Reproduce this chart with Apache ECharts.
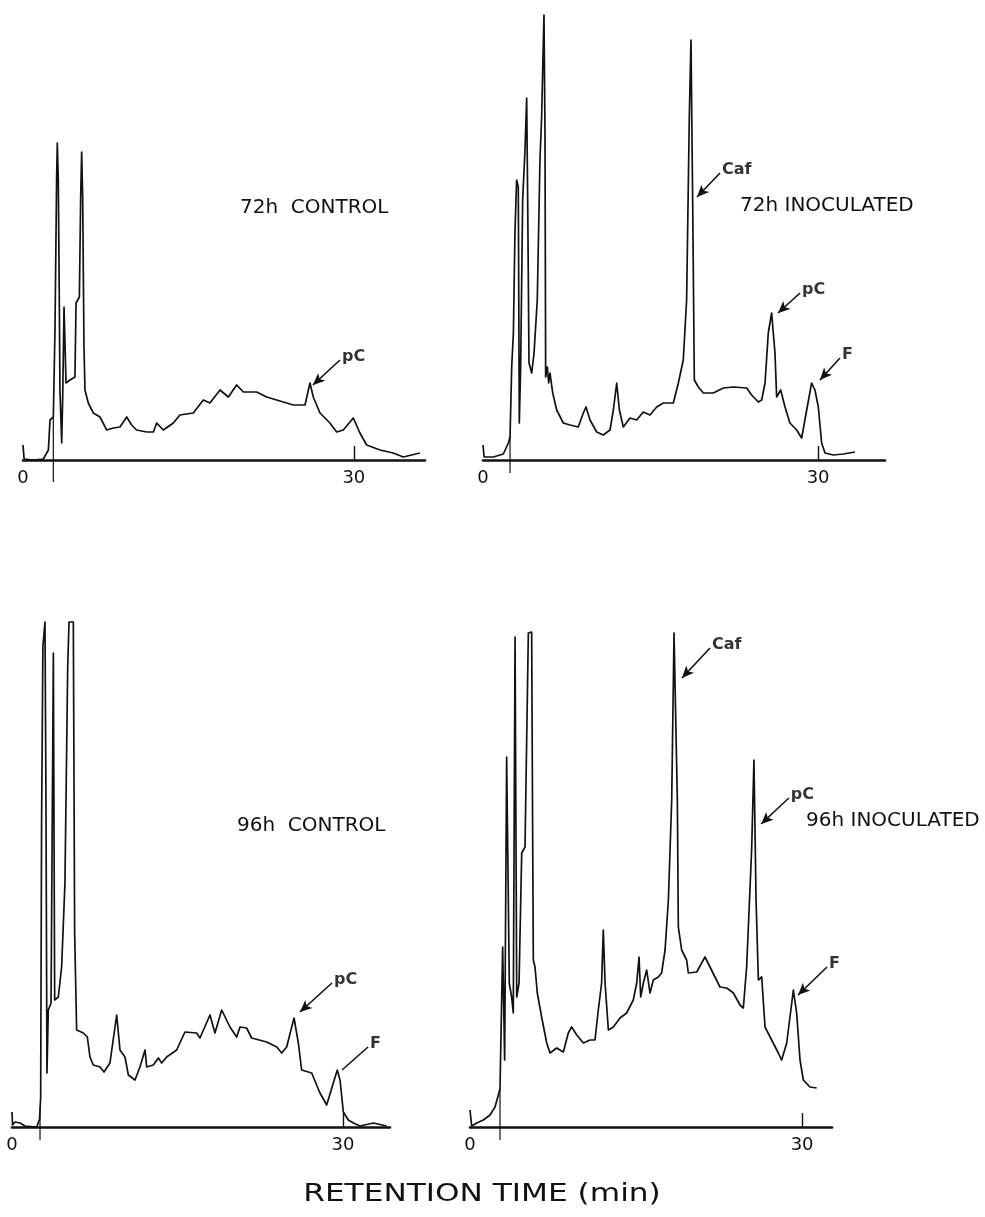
<!DOCTYPE html>
<html>
<head>
<meta charset="utf-8">
<title>HPLC chromatograms - 72h and 96h control vs inoculated</title>
<script src="https://cdn.jsdelivr.net/npm/echarts@6/dist/echarts.min.js"></script>
<style>
  html, body { margin: 0; padding: 0; background: #fff; }
  #chart { width: 985px; height: 1217px; }
</style>
</head>
<body>
<div id="chart"></div>
<script>
// Retention time (min) and detector response (relative units) for each run.
const time72Control = [0, 0.1, 0.94, 1.84, 2.30, 2.45, 2.75, 2.90, 3.05, 3.11, 3.20, 3.29, 3.35, 3.51, 3.60, 3.72, 3.84, 3.90, 4.26, 4.71, 4.81, 5.11, 5.23, 5.32, 5.41, 5.53, 5.62, 5.92, 6.38, 6.98, 7.59, 8.19, 8.79, 9.40, 9.85, 10.30, 11.21, 11.82, 12.12, 12.72, 13.63, 14.23, 15.44, 16.35, 16.95, 17.86, 18.62, 19.37, 19.98, 21.18, 22.09, 23.60, 24.51, 25.57, 26.02, 26.32, 26.93, 27.83, 28.44, 29.04, 29.95, 30.55, 31.16, 32.37, 33.57, 34.48, 35.99];
const signal72Control = [15, 1, 0, 1, 10, 40, 43, 130, 283, 317, 280, 163, 70, 17, 63, 153, 153, 77, 80, 83, 157, 163, 263, 308, 263, 113, 70, 57, 47, 43, 30, 32, 33, 43, 35, 30, 28, 28, 37, 30, 37, 45, 47, 60, 57, 70, 63, 75, 68, 68, 63, 58, 55, 55, 77, 63, 47, 37, 28, 30, 42, 27, 15, 10, 7, 3, 7];

const time72Inoc = [0, 0.1, 0.93, 1.82, 2.27, 2.42, 2.57, 2.72, 2.86, 3.01, 3.16, 3.25, 3.37, 3.55, 3.76, 3.91, 4.00, 4.12, 4.36, 4.57, 4.86, 5.10, 5.25, 5.40, 5.46, 5.55, 5.61, 5.76, 5.88, 6.00, 6.24, 6.60, 7.19, 7.79, 8.53, 8.98, 9.22, 9.58, 10.18, 10.77, 11.37, 11.67, 11.97, 12.21, 12.56, 13.16, 13.76, 14.35, 14.95, 15.55, 16.14, 17.04, 17.49, 17.93, 18.23, 18.47, 18.62, 18.77, 18.92, 19.28, 19.73, 20.62, 21.52, 22.41, 23.61, 24.05, 24.65, 24.95, 25.25, 25.54, 25.84, 26.14, 26.29, 26.65, 27.04, 27.48, 28.08, 28.53, 28.98, 29.42, 29.72, 30.02, 30.32, 30.62, 31.36, 32.26, 33.30];
const signal72Inoc = [15, 3, 3, 6, 17, 23, 93, 127, 227, 280, 273, 37, 93, 260, 310, 362, 260, 97, 87, 107, 160, 300, 343, 417, 445, 327, 83, 93, 77, 87, 67, 50, 37, 35, 33, 47, 53, 40, 28, 25, 30, 50, 77, 50, 33, 42, 40, 48, 45, 53, 57, 57, 77, 100, 160, 343, 420, 260, 80, 73, 67, 67, 72, 73, 72, 65, 58, 60, 77, 127, 147, 107, 63, 70, 53, 37, 30, 22, 50, 77, 70, 53, 17, 7, 5, 6, 8];

const time96Control = [0, 0.05, 0.27, 0.73, 1.18, 2.24, 2.50, 2.60, 2.68, 2.80, 2.99, 3.08, 3.17, 3.29, 3.54, 3.75, 3.87, 4.20, 4.50, 4.80, 5.05, 5.17, 5.56, 5.68, 5.86, 6.47, 6.83, 7.07, 7.37, 7.98, 8.34, 8.88, 9.49, 9.79, 10.24, 10.55, 11.15, 11.60, 12.06, 12.21, 12.81, 13.27, 13.57, 14.02, 14.93, 15.68, 16.74, 17.04, 17.95, 18.40, 19.01, 19.76, 20.37, 20.67, 21.27, 21.73, 23.09, 24.00, 24.45, 24.90, 25.57, 25.96, 26.26, 27.17, 27.92, 28.53, 29.13, 29.49, 29.74, 30.04, 30.49, 30.95, 31.55, 32.76, 33.97];
const signal96Control = [15, 2, 5, 4, 1, 0, 8, 30, 300, 480, 505, 327, 54, 117, 124, 474, 127, 130, 160, 244, 460, 505, 505, 194, 97, 94, 90, 70, 62, 60, 55, 64, 112, 77, 70, 52, 47, 60, 77, 60, 62, 69, 64, 70, 77, 95, 94, 89, 112, 94, 117, 100, 90, 100, 99, 89, 85, 80, 74, 80, 109, 84, 57, 54, 34, 22, 44, 57, 47, 15, 7, 4, 1, 4, 1];

const time96Inoc = [0, 0.15, 0.60, 1.20, 1.81, 2.26, 2.71, 2.95, 3.13, 3.31, 3.55, 3.76, 3.91, 4.07, 4.22, 4.43, 4.67, 4.97, 5.27, 5.57, 5.66, 5.72, 5.87, 6.08, 6.47, 6.93, 7.23, 7.83, 8.43, 8.88, 9.18, 9.64, 10.24, 10.84, 11.29, 11.59, 11.89, 12.04, 12.20, 12.50, 12.95, 13.55, 14.15, 14.75, 15.06, 15.27, 15.42, 15.66, 15.96, 16.26, 16.56, 17.01, 17.31, 17.62, 17.92, 18.22, 18.43, 18.61, 18.73, 18.82, 19.12, 19.57, 19.72, 20.48, 21.23, 21.68, 22.13, 22.58, 23.19, 23.79, 24.39, 24.69, 24.99, 25.44, 25.65, 25.84, 26.05, 26.35, 26.65, 27.25, 27.85, 28.15, 28.61, 29.21, 29.51, 29.81, 30.11, 30.71, 31.32];
const signal96Inoc = [17, 1, 4, 7, 12, 20, 38, 180, 67, 370, 144, 130, 114, 490, 130, 144, 274, 280, 494, 495, 294, 167, 160, 134, 110, 84, 74, 79, 75, 94, 100, 92, 84, 87, 87, 117, 144, 197, 144, 97, 100, 109, 114, 127, 144, 170, 130, 144, 157, 134, 147, 150, 154, 177, 227, 327, 494, 494, 327, 200, 177, 167, 154, 155, 170, 160, 150, 140, 139, 134, 122, 119, 160, 277, 367, 227, 147, 150, 100, 87, 74, 67, 84, 137, 114, 67, 47, 40, 39];

// Panel titles
const panelTitles = ['72h  CONTROL', '72h INOCULATED', '96h  CONTROL', '96h INOCULATED'];
// Time axis: end of each recorder trace (min) and labelled ticks
const axisEnds = [36.45, 35.99, 34.27, 32.70];
const tickLabels = [0, 30];
const tickMarks = [30];
// Injection marker time (min) for each run, and its extent in response units
const injectionTimes = [2.75, 2.42, 2.54, 2.71];
const injectionSpan = [[-22, 43], [-13, 23], [-13, 20], [-13, 38]];

// Peak annotations: panel, label, arrow tip [min, response], label anchor [min, response], arrowhead
const peakNotes = [
  [0, 'pC', [26.29, 75], [28.74, 100], true],
  [1, 'Caf', [19.16, 263], [21.22, 287], true],
  [1, 'pC', [26.41, 147], [28.38, 167], true],
  [1, 'F', [30.17, 80], [31.96, 102], true],
  [2, 'pC', [26.11, 115], [29.01, 144], true],
  [2, 'F', [29.92, 57], [32.28, 80], false],
  [3, 'Caf', [19.15, 449], [21.68, 479], true],
  [3, 'pC', [26.30, 303], [28.80, 329], true],
  [3, 'F', [29.63, 132], [32.25, 160], true]
];

const runs = [
  [time72Control, signal72Control],
  [time72Inoc, signal72Inoc],
  [time96Control, signal96Control],
  [time96Inoc, signal96Inoc]
];

const INK = '#111111';
const FONT = '"DejaVu Sans", "Liberation Sans", sans-serif';

// Layout of the four recorder panels (pixels); grid bottom sits on the baseline
const layout = [
  { left: 23, width: 402, top: 0, height: 460, yMax: 460 },
  { left: 483, width: 402, top: 0, height: 460, yMax: 460 },
  { left: 12, width: 378, top: 600, height: 527, yMax: 527 },
  { left: 470, width: 362, top: 600, height: 527, yMax: 527 }
];

const grids = layout.map(l => ({ left: l.left, top: l.top, width: l.width, height: l.height, containLabel: false }));

const xAxes = layout.map((l, i) => ({
  type: 'value',
  gridIndex: i,
  min: 0,
  max: axisEnds[i],
  axisLine: { show: true, onZero: false, lineStyle: { color: INK, width: 2.6 } },
  axisTick: { show: true, inside: true, length: 14, customValues: tickMarks, lineStyle: { color: INK, width: 1.4 } },
  axisLabel: { show: true, customValues: tickLabels, margin: 9, fontSize: 18, color: INK, fontFamily: FONT },
  splitLine: { show: false }
}));

const yAxes = layout.map((l, i) => ({
  type: 'value',
  gridIndex: i,
  min: 0,
  max: l.yMax,
  show: false,
  splitLine: { show: false }
}));

const series = [];
runs.forEach(([t, s], i) => {
  const notes = peakNotes.filter(n => n[0] === i);
  series.push({
    type: 'line',
    xAxisIndex: i,
    yAxisIndex: i,
    data: t.map((v, k) => [v, s[k]]),
    showSymbol: false,
    symbol: 'none',
    smooth: false,
    clip: false,
    lineStyle: { color: INK, width: 1.7, join: 'round' },
    z: 3,
    markLine: {
      silent: true,
      symbol: ['none', 'arrow'],
      symbolSize: [8, 12],
      lineStyle: { color: INK, width: 1.6, type: 'solid' },
      label: { show: false },
      data: notes.map(n => [
        { coord: n[3], symbol: 'none' },
        { coord: n[2], symbol: n[4] ? 'arrow' : 'none' }
      ])
    }
  });
  // injection marker, reaching below the baseline
  series.push({
    type: 'line',
    xAxisIndex: i,
    yAxisIndex: i,
    data: injectionSpan[i].map(v => [injectionTimes[i], v]),
    showSymbol: false,
    symbol: 'none',
    clip: false,
    lineStyle: { color: INK, width: 1.2 },
    z: 2
  });
  // peak labels
  series.push({
    type: 'scatter',
    xAxisIndex: i,
    yAxisIndex: i,
    symbolSize: 0,
    itemStyle: { color: '#000' },
    data: notes.map(n => ({ name: n[1], value: n[3] })),
    label: {
      show: true,
      position: 'right',
      distance: 2,
      offset: [0, -3],
      formatter: '{b}',
      fontSize: 16,
      fontWeight: 'bold',
      color: '#000',
      fontFamily: FONT
    },
    z: 4
  });
});

const titlePos = [[240, 208], [740, 206], [237, 826], [806, 821]];

const graphic = panelTitles.map((txt, i) => ({
  type: 'text',
  x: titlePos[i][0],
  y: titlePos[i][1],
  style: { text: txt, fill: INK, font: '20px ' + FONT, align: 'left', verticalAlign: 'middle' }
}));
graphic.push({
  type: 'text',
  x: 482,
  y: 1195,
  scaleX: 1.3,
  style: { text: 'RETENTION TIME (min)', fill: INK, font: '24px ' + FONT, align: 'center', verticalAlign: 'middle' }
});

const chart = echarts.init(document.getElementById('chart'), null, { renderer: 'canvas' });
chart.setOption({
  backgroundColor: '#ffffff',
  animation: false,
  grid: grids,
  xAxis: xAxes,
  yAxis: yAxes,
  series: series,
  graphic: graphic
});
</script>
</body>
</html>
